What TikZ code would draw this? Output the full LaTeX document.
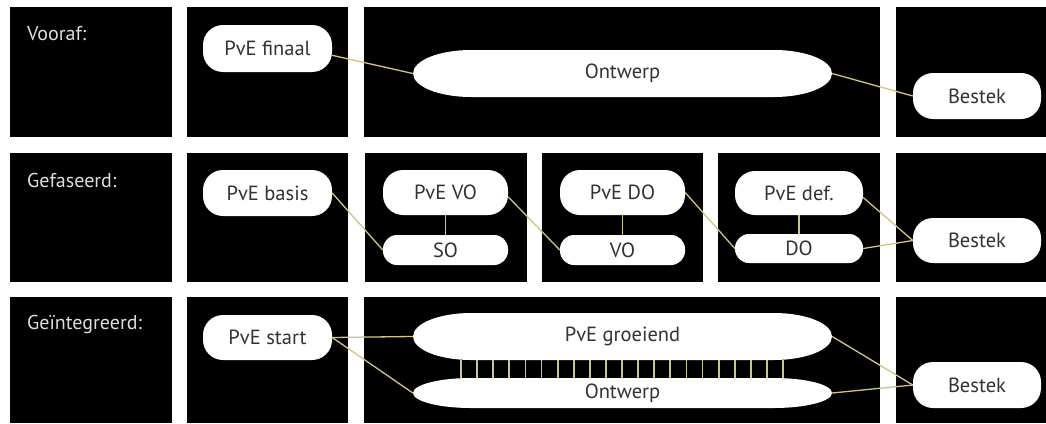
\documentclass[tikz,border=0pt]{standalone}
\usepackage{fontspec}
\setmainfont{PT Sans}
\usetikzlibrary{calc}
\definecolor{conn}{RGB}{208,198,128}
\definecolor{txt}{RGB}{50,50,50}
\definecolor{lbl}{RGB}{222,222,222}
\newcommand\capsule[6]{% name, cx, cy, width, height, text
  \fill[white] ({#2-#4/2+58},{#3-#5/2}) -- ({#2+#4/2-58},{#3-#5/2})
    arc[start angle=90,end angle=-90,x radius=58pt,y radius=#5/2*1pt]
    -- ({#2-#4/2+58},{#3+#5/2})
    arc[start angle=270,end angle=90,x radius=58pt,y radius=#5/2*1pt] -- cycle;
  \node[capnode,minimum width=#4pt,minimum height=#5pt] (#1) at (#2,#3) {#6};}
\begin{document}
\begin{tikzpicture}[x=1pt,y=-1pt,
  panel/.style={fill=black},
  boxbig/.style={fill=white,rounded corners=20pt,text=txt,inner sep=0pt,
    font=\fontsize{20.5}{24}\selectfont},
  boxsmall/.style={fill=white,rounded corners=14pt,text=txt,inner sep=0pt,
    font=\fontsize{20.5}{24}\selectfont},
  capnode/.style={draw=none,inner sep=0pt,text=txt,font=\fontsize{20.5}{24}\selectfont},
  lbltext/.style={text=lbl,inner sep=0pt,anchor=base west,font=\fontsize{20}{24}\selectfont},
  link/.style={draw=conn,line width=1.3pt},
  rung/.style={draw=conn,line width=1.8pt}]
\useasboundingbox[fill=white] (0,0) rectangle (1046,423);
% panels row 1
\fill[panel] (10,7) rectangle (172,137);
\fill[panel] (187,7) rectangle (348,137);
\fill[panel] (364,7) rectangle (880,137);
\fill[panel] (896,7) rectangle (1046,137);
% panels row 2
\fill[panel] (10,153) rectangle (172,282);
\fill[panel] (187,153) rectangle (348,282);
\fill[panel] (365,153) rectangle (527,282);
\fill[panel] (542,153) rectangle (703,282);
\fill[panel] (718,153) rectangle (880,282);
\fill[panel] (896,153) rectangle (1046,282);
% panels row 3
\fill[panel] (10,297) rectangle (172,423);
\fill[panel] (187,297) rectangle (348,423);
\fill[panel] (364,297) rectangle (880,423);
\fill[panel] (896,297) rectangle (1046,423);
% labels
\node[lbltext] (l1) at (27,40) {Vooraf:};
\node[lbltext] (l2) at (27,187) {Gefaseerd:};
\node[lbltext] (l3) at (27,329) {Geïntegreerd:};
% row 1
\node[boxbig,minimum width=129pt,minimum height=47pt] (pvefin) at (267.5,48.5) {PvE finaal};
\capsule{ont1}{622.5}{73.5}{419}{47}{Ontwerp}
\node[boxbig,minimum width=128pt,minimum height=46pt] (best1) at (977,96) {Bestek};
\draw[link] (pvefin.-6) -- (ont1.west);
\draw[link] (ont1.east) -- (best1.west);
% row 2
\node[boxbig,minimum width=129pt,minimum height=46pt] (pvebas) at (267.5,193) {PvE basis};
\node[boxbig,minimum width=125pt,minimum height=45pt] (pvevo) at (445.5,192.5) {PvE VO};
\node[boxsmall,minimum width=125pt,minimum height=30pt] (so) at (445.5,250) {SO};
\node[boxbig,minimum width=125pt,minimum height=45pt] (pvedo) at (622.5,192.5) {PvE DO};
\node[boxsmall,minimum width=125pt,minimum height=30pt] (vo) at (622.5,250) {VO};
\node[boxbig,minimum width=128pt,minimum height=44pt] (pvedef) at (799,193) {PvE def.};
\node[boxsmall,minimum width=128pt,minimum height=29pt] (do) at (799,248.5) {DO};
\node[boxbig,minimum width=128pt,minimum height=45pt] (best2) at (977,240.5) {Bestek};
\draw[link] (pvebas.east) -- (so.west);
\draw[link] (pvevo.-4) -- (vo.west);
\draw[link] (pvedo.east) -- (do.west);
\draw[link] (pvedef.-4) -- (best2.west);
\draw[link] (do.east) -- (best2.west);
\draw[link] (pvevo.south) -- (so.north);
\draw[link] (pvedo.south) -- (vo.north);
\draw[link] (pvedef.south) -- (do.north);
% row 3
\node[boxbig,minimum width=129pt,minimum height=45pt] (pvest) at (267.5,337.5) {PvE start};
\capsule{groe}{622.5}{336.5}{419}{47}{PvE groeiend}
\capsule{ont3}{622.5}{393}{419}{30}{Ontwerp}
\node[boxbig,minimum width=128pt,minimum height=46pt] (best3) at (977,385) {Bestek};
\draw[link] (pvest.east) -- (groe.west);
\draw[link] (pvest.east) -- (ont3.west);
\draw[link] (groe.east) -- (best3.west);
\draw[link] (ont3.east) -- (best3.west);
\foreach \i in {0,...,20}{
  \draw[rung] ($(groe.south)+({-161.5+\i*16.1},0)$) -- ($(ont3.north)+({-161.5+\i*16.1},0)$);
}
\end{tikzpicture}
\end{document}
